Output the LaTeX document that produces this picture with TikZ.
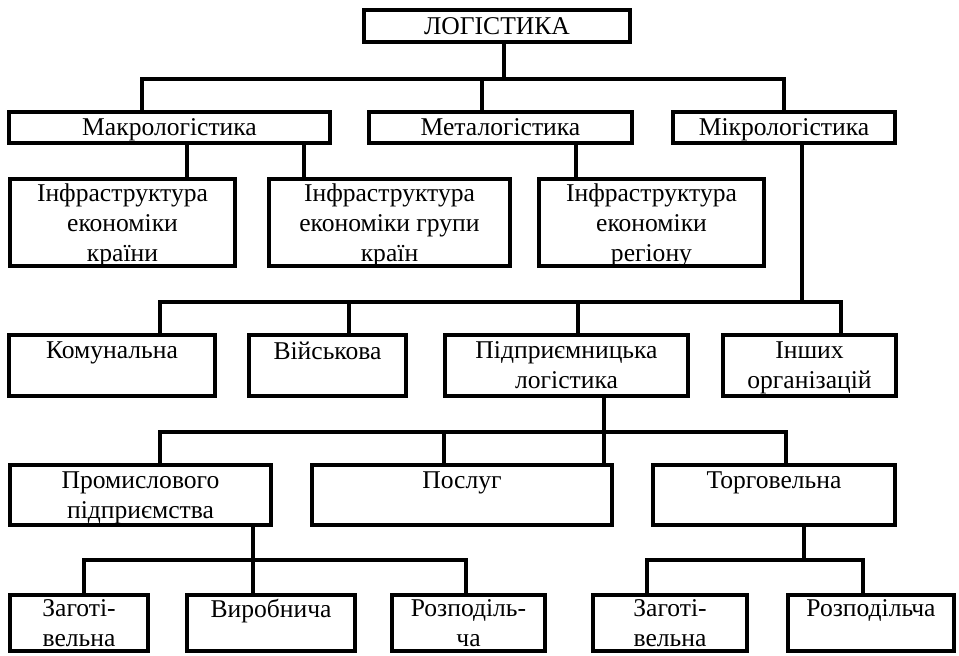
\documentclass[tikz,border=0pt]{standalone}
\usepackage{fontspec}
\setmainfont{Liberation Serif}
\usepackage{tikz}
\tikzset{
  box/.style={draw=black, line width=2.8pt, align=center, inner sep=1pt,
              font=\fontsize{18.2pt}{21.3pt}\selectfont, text depth=0pt},
  link/.style={draw=black, line width=2.8pt}
}

\begin{document}
\begin{tikzpicture}
    \useasboundingbox (0,0) rectangle (23.975,-16.4);

    \node[box, minimum width=6.65cm, minimum height=0.8cm] (log) at (12.425,-0.65) {ЛОГІСТИКА};

    \node[box, minimum width=8.025cm, minimum height=0.775cm] (macro) at (4.2375,-3.1875) {Макрологістика};
    \node[box, minimum width=6.575cm, minimum height=0.775cm] (meta) at (12.5125,-3.1875) {Металогістика};
    \node[box, minimum width=5.55cm, minimum height=0.775cm] (micro) at (19.6,-3.1875) {Мікрологістика};

    \node[box, minimum width=5.625cm, minimum height=2.175cm] (infra1) at (3.0625,-5.5625)
      {Інфраструктура\\економіки\\країни};
    \node[box, minimum width=6.025cm, minimum height=2.175cm] (infra2) at (9.7375,-5.5625)
      {Інфраструктура\\економіки групи\\країн};
    \node[box, minimum width=5.625cm, minimum height=2.175cm] (infra3) at (16.2875,-5.5625)
      {Інфраструктура\\економіки\\регіону};

    \node[box, minimum width=5.15cm, minimum height=1.525cm] (komun) at (2.8,-9.1375) {Комунальна\\\mbox{}};
    \node[box, minimum width=3.925cm, minimum height=1.525cm] (viysk) at (8.1875,-9.1375) {Військова\\\mbox{}};
    \node[box, minimum width=6.075cm, minimum height=1.525cm] (pidpr) at (14.1625,-9.1375)
      {Підприємницька\\логістика};
    \node[box, minimum width=4.325cm, minimum height=1.525cm] (inshi) at (20.2375,-9.1375)
      {Інших\\організацій};

    \node[box, minimum width=6.525cm, minimum height=1.5cm] (prom) at (3.5125,-12.375)
      {Промислового\\підприємства};
    \node[box, minimum width=7.5cm, minimum height=1.5cm] (poslug) at (11.55,-12.375) {Послуг\\\mbox{}};
    \node[box, minimum width=6.05cm, minimum height=1.5cm] (torg) at (19.35,-12.375) {Торговельна\\\mbox{}};

    \node[box, minimum width=3.45cm, minimum height=1.4cm] (zag1) at (1.975,-15.575) {Заготі-\\вельна};
    \node[box, minimum width=4.2cm, minimum height=1.4cm] (vyrob) at (6.775,-15.575) {Виробнича\\\mbox{}};
    \node[box, minimum width=3.825cm, minimum height=1.4cm] (rozp1) at (11.7125,-15.575) {Розподіль-\\ча};
    \node[box, minimum width=3.85cm, minimum height=1.4cm] (zag2) at (16.75,-15.575) {Заготі-\\вельна};
    \node[box, minimum width=4.15cm, minimum height=1.4cm] (rozp2) at (21.775,-15.575) {Розподільча\\\mbox{}};

    % junctions of the buses
    \coordinate (j1) at (12.6,-1.975);
    \coordinate (j2) at (20.05,-7.55);
    \coordinate (j3) at (15.1,-10.8);
    \coordinate (j4) at (6.325,-14.0);
    \coordinate (j5) at (20.1,-14.0);

    \draw[link] (log.south -| j1) -- (j1);
    \draw[link] (j1) -| (macro.north -| 3.55,0);
    \draw[link] (j1) -| (meta.north -| 12.05,0);
    \draw[link] (j1) -| (micro.north);

    \draw[link] (macro.south -| 4.675,0) -- (infra1.north -| 4.675,0);
    \draw[link] (macro.south -| 7.6,0) -- (infra2.north -| 7.6,0);
    \draw[link] (meta.south -| 14.4,0) -- (infra3.north -| 14.4,0);

    \draw[link] (micro.south -| j2) -- (j2);
    \draw[link] (j2) -| (komun.north -| 4.0,0);
    \draw[link] (j2) -| (viysk.north -| 8.725,0);
    \draw[link] (j2) -| (pidpr.north -| 14.45,0);
    \draw[link] (j2) -| (inshi.north -| 21.025,0);

    \draw[link] (pidpr.south -| j3) -- (j3);
    \draw[link] (j3) -| (prom.north -| 4.0,0);
    \draw[link] (j3) -| (poslug.north -| 11.1,0);
    \draw[link] (j3) -- (poslug.north -| j3);
    \draw[link] (j3) -| (torg.north -| 19.65,0);

    \draw[link] (prom.south -| j4) -- (j4);
    \draw[link] (j4) -| (zag1.north -| 2.1,0);
    \draw[link] (j4) -- (vyrob.north -| j4);
    \draw[link] (j4) -| (rozp1.north -| 11.65,0);

    \draw[link] (torg.south -| j5) -- (j5);
    \draw[link] (j5) -| (zag2.north -| 16.175,0);
    \draw[link] (j5) -| (rozp2.north -| 21.575,0);
\end{tikzpicture}
\end{document}
